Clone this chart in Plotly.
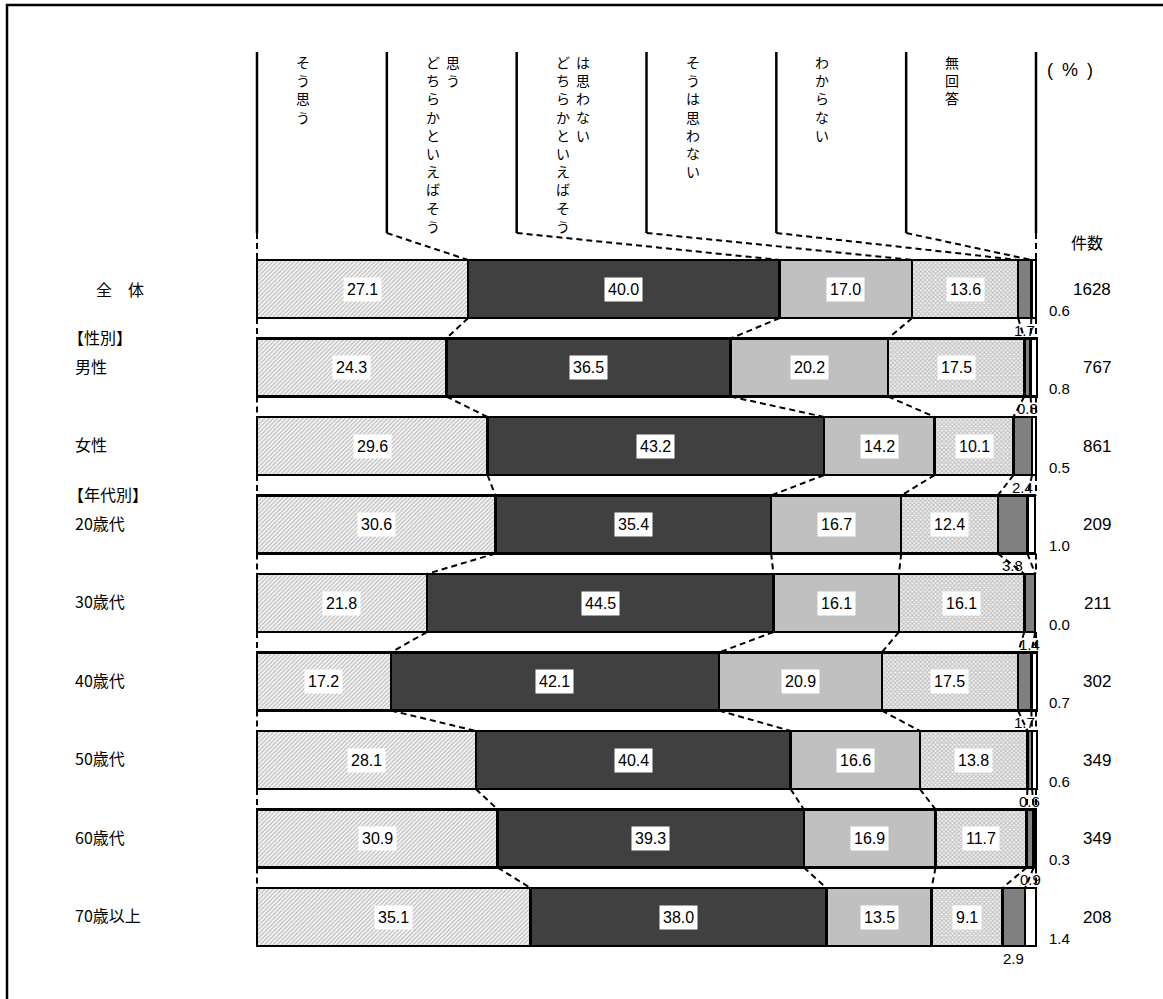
import plotly.graph_objects as go

# ---- data -------------------------------------------------------------
row_labels = ["全　体", "男性", "女性", "20歳代", "30歳代", "40歳代", "50歳代", "60歳代", "70歳以上"]
counts = [1628, 767, 861, 209, 211, 302, 349, 349, 208]
categories = ["そう思う", "どちらかといえばそう思う", "どちらかといえばそうは思わない",
              "そうは思わない", "わからない", "無回答"]
s_agree = [27.1, 24.3, 29.6, 30.6, 21.8, 17.2, 28.1, 30.9, 35.1]
s_rather_agree = [40.0, 36.5, 43.2, 35.4, 44.5, 42.1, 40.4, 39.3, 38.0]
s_rather_disagree = [17.0, 20.2, 14.2, 16.7, 16.1, 20.9, 16.6, 16.9, 13.5]
s_disagree = [13.6, 17.5, 10.1, 12.4, 16.1, 17.5, 13.8, 11.7, 9.1]
s_unknown = [1.7, 0.8, 2.4, 3.8, 1.4, 1.7, 0.6, 0.9, 2.9]
s_no_answer = [0.6, 0.8, 0.5, 1.0, 0.0, 0.7, 0.6, 0.3, 1.4]
# header text, one list of vertical columns (left to right) per category
header_columns = [["そう思う"], ["どちらかといえばそう", "思う"], ["どちらかといえばそう", "は思わない"],
                  ["そうは思わない"], ["わからない"], ["無回答"]]
group_headings = [("【性別】", 1), ("【年代別】", 3)]

series = [s_agree, s_rather_agree, s_rather_disagree, s_disagree, s_unknown, s_no_answer]

# ---- geometry ---------------------------------------------------------
W, H = 1163, 999
X0_PX, X100_PX = 257, 1036
PPU = (X100_PX - X0_PX) / 100.0
ROW0_PX, ROW_STEP = 289, 78.5
BAR_W = 0.74
HALF = BAR_W / 2


def px_x(px):
    return (px - X0_PX) / PPU


def px_y(py):
    return (py - ROW0_PX) / ROW_STEP


NUM_FONT = "Arial, Liberation Sans, sans-serif"
JP_FONT = "Noto Sans CJK JP, sans-serif"

rows = list(range(len(row_labels)))

styles = [
    dict(color="white", pattern=dict(shape="/", fgcolor="#7a7a7a", bgcolor="#f4f4f4", size=3, solidity=0.35)),
    dict(color="#404040"),
    dict(color="#c0c0c0"),
    dict(color="white", pattern=dict(shape="x", fgcolor="#8a8a8a", bgcolor="#f0f0f0", size=3, solidity=0.5)),
    dict(color="#808080"),
    dict(color="white"),
]

fig = go.Figure()
for name, vals, st in zip(categories, series, styles):
    fig.add_trace(go.Bar(
        name=name, x=vals, y=rows, orientation="h", width=BAR_W,
        marker=dict(**st, line=dict(color="black", width=2.5)),
        hoverinfo="x+name",
    ))

# cumulative boundaries per row
bounds = []
for i in rows:
    acc = [0.0]
    for s in series:
        acc.append(acc[-1] + s[i])
    acc[-1] = 100.0
    bounds.append(acc)

annotations = []

# values inside the bars (first four segments)
for k in range(4):
    for i in rows:
        v = series[k][i]
        annotations.append(dict(
            x=bounds[i][k] + v / 2, y=i, xref="x", yref="y", text=f"{v:.1f}",
            showarrow=False, bgcolor="white", borderpad=3,
            font=dict(family=NUM_FONT, size=16, color="black")))

# わからない: below the bar; 無回答: to the right, lower; then the count
for i in rows:
    v5 = s_unknown[i]
    annotations.append(dict(
        x=bounds[i][4] + v5 / 2, y=i + HALF + 12 / ROW_STEP, xref="x", yref="y",
        text=f"{v5:.1f}", showarrow=False,
        font=dict(family=NUM_FONT, size=15, color="black")))
    annotations.append(dict(
        x=px_x(1047), y=i + 21 / ROW_STEP, xref="x", yref="y", xanchor="left",
        text=f"{s_no_answer[i]:.1f}", showarrow=False,
        font=dict(family=NUM_FONT, size=15, color="black")))
    annotations.append(dict(
        x=px_x(1113), y=i, xref="x", yref="y", xanchor="right",
        text=str(counts[i]), showarrow=False,
        font=dict(family=NUM_FONT, size=17, color="black")))

# row labels
for i, lab in enumerate(row_labels):
    if i == 0:
        annotations.append(dict(x=px_x(120), y=i, xref="x", yref="y", xanchor="center",
                                text=lab, showarrow=False,
                                font=dict(family=JP_FONT, size=16, color="black")))
    else:
        annotations.append(dict(x=px_x(73), y=i - 2 / ROW_STEP, xref="x", yref="y", xanchor="left",
                                text=lab, showarrow=False,
                                font=dict(family=JP_FONT, size=16, color="black")))
for lab, i in group_headings:
    annotations.append(dict(x=px_x(66), y=i - 31 / ROW_STEP, xref="x", yref="y", xanchor="left",
                            text=lab, showarrow=False,
                            font=dict(family=JP_FONT, size=16, color="black")))

# vertical header text: one column per annotation, one character per line
HEAD_TEXT_TOP = 51
for k, cols in enumerate(header_columns):
    line_x = X0_PX + k * (X100_PX - X0_PX) / 6
    xs = [line_x + 46] if len(cols) == 1 else [line_x + 46, line_x + 66]
    for cx, text in zip(xs, cols):
        annotations.append(dict(
            x=px_x(cx), y=px_y(HEAD_TEXT_TOP), xref="x", yref="y", yanchor="top",
            text="<br>".join(text), showarrow=False, borderpad=0,
            font=dict(family=JP_FONT, size=14, color="black")))

annotations.append(dict(x=px_x(1070), y=px_y(70), xref="x", yref="y", text="(\u2002%\u2002)",
                        showarrow=False, font=dict(family=NUM_FONT, size=18, color="black")))
annotations.append(dict(x=px_x(1087), y=px_y(242), xref="x", yref="y", text="件数",
                        showarrow=False, font=dict(family=JP_FONT, size=16, color="black")))

# header divider lines
shapes = []
HEAD_LINE_TOP, HEAD_LINE_BOT = 52, 233
head_x = [k * 100 / 6 for k in range(7)]
for hx in head_x:
    shapes.append(dict(type="line", xref="x", yref="y", x0=hx, x1=hx,
                       y0=px_y(HEAD_LINE_TOP), y1=px_y(HEAD_LINE_BOT),
                       line=dict(color="black", width=2.5)))

# dashed connectors: header -> first bar, then bar -> bar
cx_, cy_ = [], []
for k, hx in enumerate(head_x):
    cx_ += [hx, bounds[0][k], None]
    cy_ += [px_y(HEAD_LINE_BOT), 0 - HALF, None]
for i in rows[:-1]:
    for k in range(7):
        cx_ += [bounds[i][k], bounds[i + 1][k], None]
        cy_ += [i + HALF, i + 1 - HALF, None]
fig.add_trace(go.Scatter(x=cx_, y=cy_, mode="lines", hoverinfo="skip", showlegend=False,
                         line=dict(color="black", width=2, dash="6px,4px")))

# outer frame
shapes.append(dict(type="rect", xref="paper", yref="paper",
                   x0=7 / W, x1=1.05, y0=-0.05, y1=1 - 5 / H,
                   line=dict(color="black", width=2.5), fillcolor="rgba(0,0,0,0)"))

fig.update_layout(
    width=W, height=H, margin=dict(l=0, r=0, t=0, b=0),
    paper_bgcolor="white", plot_bgcolor="white",
    barmode="stack", showlegend=False,
    xaxis=dict(range=[px_x(0), px_x(W)], visible=False, fixedrange=True),
    yaxis=dict(range=[px_y(H), px_y(0)], visible=False, fixedrange=True),
    annotations=annotations, shapes=shapes,
)

fig.write_html("out.html")
